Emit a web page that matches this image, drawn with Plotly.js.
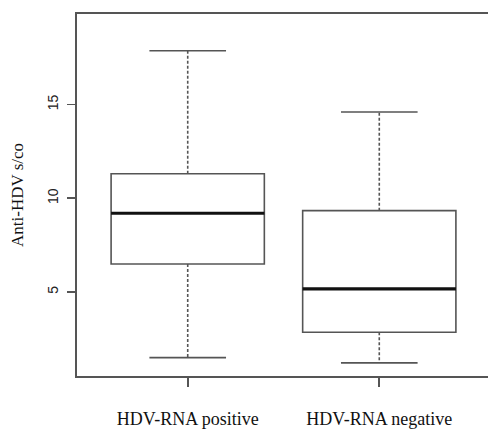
<!DOCTYPE html>
<html><head><meta charset="utf-8">
<script src="https://cdn.plot.ly/plotly-3.0.1.min.js"></script>
<style>html,body{margin:0;padding:0;overflow:hidden;background:#fff;width:488px;height:429px}#c{width:493px;height:429px}</style>
</head><body><div id="c"></div>
<script>
const categories = ["HDV-RNA positive", "HDV-RNA negative"];
const lowerWhisker = [1.49, 1.21];
const q1 = [6.49, 2.85];
const median = [9.2, 5.16];
const q3 = [11.31, 9.34];
const upperWhisker = [17.88, 14.61];
const yTicks = [5, 10, 15];

const pos = categories.map((c, i) => i);
const boxW = 0.8, capHalf = 0.2;
const lineCol = "#555555";
const traces = [];
pos.forEach((p, i) => {
  traces.push({type: "box", x: [p], q1: [q1[i]], median: [median[i]], q3: [q3[i]],
    lowerfence: [q1[i]], upperfence: [q3[i]], width: boxW, whiskerwidth: 0,
    fillcolor: "rgba(0,0,0,0)", line: {color: lineCol, width: 1.6}, hoverinfo: "skip", showlegend: false});
  traces.push({type: "scatter", mode: "lines", x: [p, p, null, p, p],
    y: [q3[i], upperWhisker[i], null, q1[i], lowerWhisker[i]],
    line: {color: lineCol, width: 1.6, dash: "3px,2px"}, hoverinfo: "skip", showlegend: false});
  traces.push({type: "scatter", mode: "lines", x: [p - capHalf, p + capHalf, null, p - capHalf, p + capHalf],
    y: [upperWhisker[i], upperWhisker[i], null, lowerWhisker[i], lowerWhisker[i]],
    line: {color: lineCol, width: 1.6}, hoverinfo: "skip", showlegend: false});
  traces.push({type: "scatter", mode: "lines", x: [p - boxW / 2, p + boxW / 2], y: [median[i], median[i]],
    line: {color: "#111111", width: 3.2}, hoverinfo: "skip", showlegend: false});
});

const layout = {
  width: 493, height: 429,
  margin: {l: 77, r: 1, t: 14, b: 53},
  paper_bgcolor: "#fff", plot_bgcolor: "#fff",
  showlegend: false,
  xaxis: {range: [-0.578, 1.578], tickvals: pos, ticktext: categories, showgrid: false, zeroline: false,
    showline: true, mirror: true, linecolor: lineCol, linewidth: 1.6,
    ticks: "outside", ticklen: 9, tickcolor: lineCol, tickwidth: 1.6, ticklabelstandoff: 17,
    tickfont: {family: "Liberation Serif, Times New Roman, serif", size: 18, color: "#111"}},
  yaxis: {range: [0.51, 19.84], tickvals: yTicks, showgrid: false, zeroline: false, automargin: true,
    showline: true, mirror: true, linecolor: lineCol, linewidth: 1.6,
    ticks: "outside", ticklen: 8, tickcolor: lineCol, tickwidth: 1.6, tickangle: -90, ticklabelstandoff: 4,
    tickfont: {family: "Liberation Sans, Arial, sans-serif", size: 14, color: "#222"},
    title: {text: "Anti-HDV s/co", standoff: 17, font: {family: "Liberation Serif, Times New Roman, serif", size: 17, color: "#111"}}}
};
Plotly.newPlot("c", traces, layout, {displayModeBar: false, staticPlot: true});
</script></body></html>
